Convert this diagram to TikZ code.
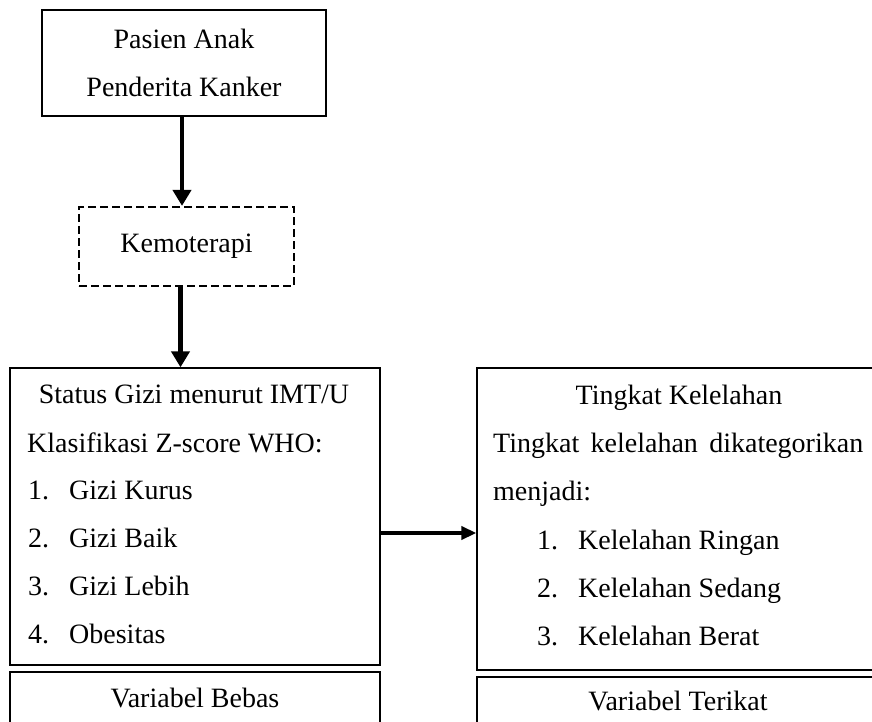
\documentclass[tikz,border=0pt]{standalone}
\usepackage{fontspec}
\setmainfont{Liberation Serif}
\usetikzlibrary{arrows.meta}

\begin{document}
\begin{tikzpicture}[x=1pt,y=-1pt,
    font=\fontsize{28}{48}\selectfont,
    box/.style={draw, line width=1.3pt, inner sep=0pt},
    txt/.style={inner sep=0pt},
    arrow/.style={line width=4.5pt, -{Triangle[length=16pt,width=18pt]}}]
    \useasboundingbox (0,0) rectangle (872,722);

    % boxes
    \node[box, line width=2.6pt, align=center, minimum width=284pt, minimum height=106pt] (pasien) at (184,63) {Pasien Anak\\Penderita Kanker};
    \node[box, line width=2.2pt, dash pattern=on 8pt off 4pt, minimum width=215pt, minimum height=79pt] (kemo) at (186.5,246.5) {Kemoterapi};
    \node[box, minimum width=370pt, minimum height=297pt] (status) at (195,516.5) {};
    \node[box, minimum width=370pt, minimum height=68pt] (bebas) at (195,706) {};
    \node[box, minimum width=403pt, minimum height=302pt] (kelelahan) at (678.5,519) {};
    \node[box, minimum width=403pt, minimum height=63pt] (terikat) at (678.5,708.5) {};

    % texts, left side
    \node[txt, anchor=base] (statusjudul) at (194,403) {Status Gizi menurut IMT/U};
    \node[txt, anchor=base west] (klasifikasi) at (27,452) {Klasifikasi Z-score WHO:};
    \node[txt, anchor=base west] (no1) at (28,499) {1.};
    \node[txt, anchor=base west] (gizi1) at (69,499) {Gizi Kurus};
    \node[txt, anchor=base west] (no2) at (28,547) {2.};
    \node[txt, anchor=base west] (gizi2) at (69,547) {Gizi Baik};
    \node[txt, anchor=base west] (no3) at (28,595) {3.};
    \node[txt, anchor=base west] (gizi3) at (69,595) {Gizi Lebih};
    \node[txt, anchor=base west] (no4) at (28,643) {4.};
    \node[txt, anchor=base west] (gizi4) at (69,643) {Obesitas};
    \node[txt, anchor=base] (bebasteks) at (195,707) {Variabel Bebas};

    % texts, right side
    \node[txt, anchor=base] (kelelahanjudul) at (679,404) {Tingkat Kelelahan};
    \node[txt, anchor=base west] (kategori) at (493,452) {\makebox[370pt][s]{Tingkat kelelahan dikategorikan}};
    \node[txt, anchor=base west] (menjadi) at (493,500) {menjadi:};
    \node[txt, anchor=base west] (nk1) at (537,549) {1.};
    \node[txt, anchor=base west] (lelah1) at (578,549) {Kelelahan Ringan};
    \node[txt, anchor=base west] (nk2) at (537,597) {2.};
    \node[txt, anchor=base west] (lelah2) at (578,597) {Kelelahan Sedang};
    \node[txt, anchor=base west] (nk3) at (537,645) {3.};
    \node[txt, anchor=base west] (lelah3) at (578,645) {Kelelahan Berat};
    \node[txt, anchor=base] (terikatteks) at (678,710) {Variabel Terikat};

    % arrows
    \coordinate (panah) at (0,533);
    \draw[arrow] ([xshift=-2pt]pasien.south) -- ([xshift=-2pt]pasien.south |- kemo.north);
    \draw[arrow] ([xshift=-6pt]kemo.south) -- ([xshift=-6pt]kemo.south |- status.north);
    \draw[line width=4pt, -{Triangle[length=15pt,width=13pt]}] (status.east |- panah) -- (kelelahan.west |- panah);
\end{tikzpicture}
\end{document}
